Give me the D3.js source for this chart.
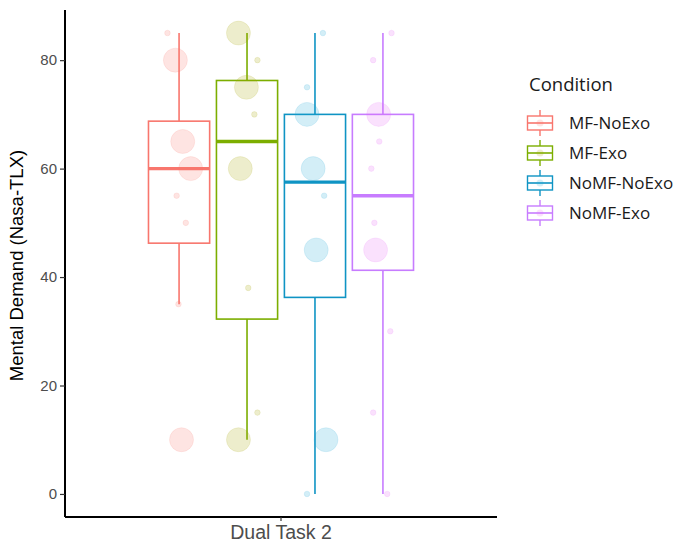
<!DOCTYPE html>
<html>
<head>
<meta charset="utf-8">
<script src="https://cdn.jsdelivr.net/npm/d3@7"></script>
<style>
  body { margin: 0; background: #fff; font-family: "Liberation Sans", Arial, sans-serif; }
  .axis text { fill: #4d4d4d; font-size: 15px; }
  .legend text { font-family: "Open Sans", sans-serif; fill: #1a1a1a; }
</style>
</head>
<body>
<svg width="673" height="543"></svg>
<script>
// categories
const task = ["Dual Task 2"];
const conditions = ["MF-NoExo", "MF-Exo", "NoMF-NoExo", "NoMF-Exo"];
const boxColors = ["#F8766D", "#7CAE00", "#0F94C4", "#C77CFF"];
const pointColors = ["#F8766D", "#A3A500", "#22A8D8", "#E76BF3"];
const yTicks = [0, 20, 40, 60, 80];

// observed scores per condition (value, number of participants, jitter as fraction of box width)
const mfNoExo = {
  value: [85, 80, 65, 60, 55, 50, 35, 10],
  count: [1, 2, 2, 2, 1, 1, 1, 2],
  jitter: [-0.19, -0.06, 0.06, 0.19, -0.04, 0.11, -0.01, 0.04]
};
const mfExo = {
  value: [85, 80, 75, 70, 60, 38, 15, 10],
  count: [2, 1, 2, 1, 2, 1, 1, 2],
  jitter: [-0.14, 0.17, -0.01, 0.12, -0.11, 0.02, 0.17, -0.14]
};
const noMfNoExo = {
  value: [85, 75, 70, 60, 55, 45, 10, 0],
  count: [1, 1, 2, 2, 1, 2, 2, 1],
  jitter: [0.13, -0.13, -0.13, -0.03, 0.15, 0.02, 0.18, -0.13]
};
const noMfExo = {
  value: [85, 80, 70, 65, 60, 50, 45, 30, 15, 0],
  count: [1, 1, 2, 1, 1, 1, 2, 1, 1, 1],
  jitter: [0.14, -0.16, -0.07, -0.06, -0.19, -0.14, -0.12, 0.12, -0.16, 0.07]
};
const groups = [mfNoExo, mfExo, noMfNoExo, noMfExo];

const svg = d3.select("svg"),
  margin = {top: 10, right: 176, bottom: 26, left: 65},
  width = 673 - margin.left - margin.right,
  height = 543 - margin.top - margin.bottom,
  g = svg.append("g").attr("transform", "translate(" + margin.left + "," + margin.top + ")");

const y = d3.scaleLinear().domain([-4.25, 89.25]).range([height, 0]);
const x = d3.scaleBand().domain(task).range([0, width]).paddingInner(0).paddingOuter(0.315);
const xc = d3.scaleBand().domain(conditions).range([0, x.bandwidth()]).paddingInner(0.1).paddingOuter(0);
const size = d3.scaleLinear().domain([1, 2]).range([2.8, 12]);

function stats(d) {
  const all = [];
  d.value.forEach((v, i) => { for (let k = 0; k < d.count[i]; k++) all.push(v); });
  all.sort(d3.ascending);
  const q1 = d3.quantileSorted(all, 0.25), med = d3.quantileSorted(all, 0.5), q3 = d3.quantileSorted(all, 0.75);
  const iqr = q3 - q1;
  const lo = d3.min(all.filter(v => v >= q1 - 1.5 * iqr));
  const hi = d3.max(all.filter(v => v <= q3 + 1.5 * iqr));
  return {q1, med, q3, lo, hi};
}

// axes
g.append("g")
  .attr("class", "axis")
  .call(d3.axisLeft(y).tickValues(yTicks).tickSize(5).tickPadding(3))
  .call(a => a.select(".domain").attr("stroke", "#000").attr("stroke-width", 2).attr("d", "M0," + height + "V0"))
  .call(a => a.selectAll(".tick line").attr("stroke", "#333").attr("stroke-width", 1.2));

g.append("g")
  .attr("class", "axis")
  .attr("transform", "translate(0," + height + ")")
  .call(d3.axisBottom(x).tickSize(4).tickPadding(4))
  .call(a => a.select(".domain").attr("stroke", "#000").attr("stroke-width", 2).attr("d", "M0,0H" + width))
  .call(a => a.selectAll(".tick line").attr("stroke", "#333").attr("stroke-width", 1.2))
  .call(a => a.selectAll(".tick text").attr("fill", "#000").style("font-size", "19.5px"));

svg.append("text")
  .attr("transform", "translate(23," + (margin.top + height / 2 + 2) + ") rotate(-90)")
  .attr("text-anchor", "middle")
  .style("font-size", "18.5px")
  .text("Mental Demand (Nasa-TLX)");

// boxes
groups.forEach((d, i) => {
  const s = stats(d);
  const x0 = x(task[0]) + xc(conditions[i]);
  const bw = xc.bandwidth();
  const cx = x0 + bw / 2;
  const col = boxColors[i];
  const bg = g.append("g");
  bg.append("line").attr("x1", cx).attr("x2", cx).attr("y1", y(s.hi)).attr("y2", y(s.q3))
    .attr("stroke", col).attr("stroke-width", 1.6);
  bg.append("line").attr("x1", cx).attr("x2", cx).attr("y1", y(s.q1)).attr("y2", y(s.lo))
    .attr("stroke", col).attr("stroke-width", 1.6);
  bg.append("rect").attr("x", x0).attr("width", bw).attr("y", y(s.q3)).attr("height", y(s.q1) - y(s.q3))
    .attr("fill", "none").attr("stroke", col).attr("stroke-width", 1.6);
  bg.append("line").attr("x1", x0).attr("x2", x0 + bw).attr("y1", y(s.med)).attr("y2", y(s.med))
    .attr("stroke", col).attr("stroke-width", 3.4);
});

// points
groups.forEach((d, i) => {
  const x0 = x(task[0]) + xc(conditions[i]);
  const bw = xc.bandwidth();
  g.append("g").selectAll("circle")
    .data(d.value.map((v, k) => ({v, n: d.count[k], j: d.jitter[k]})))
    .join("circle")
    .attr("cx", p => x0 + bw / 2 + p.j * bw)
    .attr("cy", p => y(p.v))
    .attr("r", p => size(p.n))
    .attr("fill", pointColors[i])
    .attr("fill-opacity", 0.2)
    .attr("stroke", pointColors[i])
    .attr("stroke-opacity", 0.12);
});

// legend
const legend = svg.append("g").attr("class", "legend").attr("transform", "translate(527,0)");
legend.append("text").attr("x", 2).attr("y", 91).style("font-size", "18.5px").text("Condition");
conditions.forEach((c, i) => {
  const ly = 123 + i * 30;
  const row = legend.append("g").attr("transform", "translate(0," + ly + ")");
  const col = boxColors[i];
  row.append("line").attr("x1", 13).attr("x2", 13).attr("y1", -13).attr("y2", 13).attr("stroke", col).attr("stroke-width", 1.4);
  row.append("rect").attr("x", 0.5).attr("y", -7).attr("width", 25).attr("height", 14)
    .attr("fill", "#fff").attr("stroke", col).attr("stroke-width", 1.4);
  row.append("line").attr("x1", 0.5).attr("x2", 25.5).attr("y1", 0).attr("y2", 0).attr("stroke", col).attr("stroke-width", 1.6);
  row.append("circle").attr("cx", 13).attr("cy", 0).attr("r", 3.5)
    .attr("fill", pointColors[i]).attr("fill-opacity", 0.2);
  row.append("text").attr("x", 42).attr("y", 0).attr("dy", "0.36em").style("font-size", "17px").text(c);
});
</script>
</body>
</html>
